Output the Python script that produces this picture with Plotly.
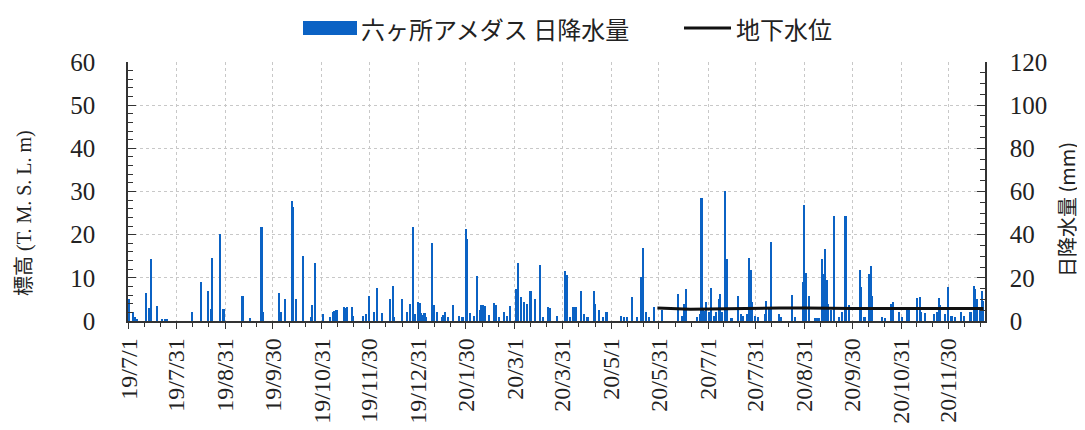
import plotly.graph_objects as go
import pandas as pd

# ---------------- data ----------------
START_DATE = "2019-07-01"
# day offset from START_DATE of each rainy day, and daily rainfall (mm)
rain_day_offset = [
    0, 3, 4, 5, 11, 13, 14, 18, 21, 23, 24, 40, 46, 50, 52, 53, 58, 60, 72, 77,
    84, 85, 95, 96, 99, 103, 104, 106, 110, 115, 116, 118, 123, 127, 129, 130, 131, 132, 136, 137,
    138, 141, 142, 148, 150, 152, 155, 157, 160, 165, 167, 168, 173, 176, 178, 180, 181, 183,
    184, 185, 186, 187, 188, 192, 193, 195, 198, 199, 200, 202, 205, 209, 211, 213, 214, 216,
    218, 220, 222, 223, 224, 225, 228, 231, 232, 234, 237, 239, 241, 245, 246, 248, 250, 252,
    254, 257, 260, 262, 265, 266, 271, 276, 277, 279, 281, 282, 283, 286, 288, 290, 294, 295,
    297, 300, 302, 311, 313, 315, 318, 321, 324, 325, 327, 329, 332, 337, 347, 350, 351, 352,
    359, 361, 362, 363, 364, 365, 367, 368, 370, 371, 373, 374, 375, 377, 378, 381, 385, 387,
    388, 391, 392, 393, 394, 396, 398, 402, 403, 405, 406, 411, 412, 419, 421, 426, 427, 428,
    430, 434, 435, 436, 438, 439, 440, 441, 442, 444, 446, 449, 451, 453, 455, 462, 463, 465,
    468, 469, 470, 476, 478, 482, 483, 487, 489, 492, 493, 498, 500, 501, 503, 509, 511, 512,
    513, 516, 518, 520, 522, 526, 528, 532, 534, 535, 536, 538, 539, 540,
]
rain_mm = [
    10, 4, 2, 1, 12.9, 6, 28.5, 7, 1, 1, 1, 4.4, 18, 13.7, 5.6, 29, 40.4, 5.6, 11.5, 1.5,
    43.7, 4.4, 12.9, 4, 10, 55.8, 53, 10.3, 30.3, 2, 7.2, 26.8, 3.3, 1.8, 4, 4.5, 5, 5, 6.4, 6,
    6.4, 6.4, 2.5, 2.5, 3.3, 11.5, 4, 15.2, 3.8, 10, 16, 1.8, 10, 4.4, 8, 43.7, 3.3, 8.7,
    8.4, 3.5, 3, 3.5, 2, 36, 7.6, 4.4, 2, 3, 4, 1.8, 7.5, 2.5, 2, 42.7, 38, 3.6,
    2.5, 21, 4.9, 7.5, 7.5, 7, 2.9, 8.4, 7.2, 1.8, 4.4, 2.5, 6.9, 14.6, 26.8, 11, 8.7, 8,
    14.1, 10, 26, 2, 6.4, 6, 2.5, 23.4, 21.5, 1.8, 6.4, 6.4, 6.4, 14.1, 3.3, 2, 14.1, 8,
    5.3, 1.8, 4, 2.5, 1.8, 2, 11, 2, 20.3, 33.7, 4, 2, 6.4, 4.9, 12.6, 2.5, 8, 14.6,
    2, 3.3, 56.9, 4.9, 4.5, 8.7, 4, 15.4, 2.5, 4, 10.3, 12.3, 4, 60.4, 28.8, 1.3, 11.5, 3.3,
    2.5, 3.3, 29.2, 23.7, 8.7, 2.5, 1.8, 3.3, 9.2, 5.6, 36.8, 3.3, 2, 12.1, 1.8, 18, 53.9, 22.1,
    11.8, 1.5, 1.5, 1.5, 28.5, 21.8, 33.4, 19, 8, 4.9, 48.8, 2, 4, 48.8, 7.2, 23.7, 15.6, 2,
    21.8, 25.7, 11.8, 1.8, 1.5, 8, 8.7, 4, 2, 4.9, 5.2, 10.7, 11, 4, 3.8, 3.3, 4, 10.7,
    7.2, 3.3, 15.6, 2.5, 2, 4, 2.5, 4, 16.1, 14.9, 10.3, 5.6, 13.7, 9.5,
]

gw_dates = ["2020-05-30", "2020-06-10", "2020-06-20", "2020-07-01", "2020-07-15",
            "2020-08-01", "2020-08-15", "2020-09-01", "2020-09-15", "2020-10-01",
            "2020-10-15", "2020-11-01", "2020-11-15", "2020-12-01", "2020-12-22"]
gw_level = [3.0, 2.9, 2.7, 2.8, 2.9, 2.9, 3.0, 3.0, 2.9, 2.9, 2.9, 2.9, 2.9, 2.9, 2.9]

tick_dates = ["2019-07-01", "2019-07-31", "2019-08-31", "2019-09-30", "2019-10-31",
              "2019-11-30", "2019-12-31", "2020-01-30", "2020-03-01", "2020-03-31",
              "2020-05-01", "2020-05-31", "2020-07-01", "2020-07-31", "2020-08-31",
              "2020-09-30", "2020-10-31", "2020-11-30"]
tick_labels = ["19/7/1", "19/7/31", "19/8/31", "19/9/30", "19/10/31", "19/11/30",
               "19/12/31", "20/1/30", "20/3/1", "20/3/31", "20/5/1", "20/5/31",
               "20/7/1", "20/7/31", "20/8/31", "20/9/30", "20/10/31", "20/11/30"]

rain_label = "六ヶ所アメダス 日降水量"
gw_label = "地下水位"

# ---------------- build ----------------
rain_dates = pd.Timestamp(START_DATE) + pd.to_timedelta(rain_day_offset, unit="D")

# minor ticks: thirds between major ticks
tk = pd.to_datetime(tick_dates)
minor_ticks = []
for a, b in zip(tk[:-1], tk[1:]):
    d = (b - a) / 3
    minor_ticks += [a + d, a + 2 * d]
minor_ticks.append(tk[-1] + pd.Timedelta(days=10))
minor_ticks.append(tk[-1] + pd.Timedelta(days=20))
minor_ticks = [t.strftime("%Y-%m-%d %H:%M") for t in minor_ticks]

SERIF = "Liberation Serif, Noto Sans CJK JP"
CJK = "Noto Sans CJK JP"
BLUE = "#0b62c4"
AX = "#333333"
GRID = "#c8c8c8"

fig = go.Figure()
fig.add_trace(go.Bar(
    x=rain_dates, y=rain_mm, yaxis="y", name=rain_label,
    marker=dict(color=BLUE, line=dict(width=0)),
    width=86400000 * 1.0, showlegend=False,
))
fig.add_trace(go.Scatter(
    x=gw_dates, y=gw_level, yaxis="y2", mode="lines", name=gw_label,
    line=dict(color="#111111", width=3), showlegend=False,
))

# page body has an 8px offset; figure sized so nothing is clipped
fig.update_layout(
    width=1077, height=422,
    margin=dict(l=120, r=100, t=54, b=109, autoexpand=False),
    paper_bgcolor="white", plot_bgcolor="white",
    bargap=0,
    xaxis=dict(
        type="date", range=["2019-06-30 12:00", "2020-12-23"],
        automargin=False,
        tickmode="array", tickvals=tick_dates, ticktext=tick_labels,
        tickangle=-90, tickfont=dict(family=SERIF, size=24, color="#222"),
        ticks="outside", ticklen=6, tickcolor=AX,
        showline=True, linecolor=AX, linewidth=1.5,
        showgrid=True, gridcolor=GRID, griddash="dot", gridwidth=1,
        minor=dict(tickmode="array", tickvals=minor_ticks, ticks="outside",
                   ticklen=4, tickcolor=AX, showgrid=False),
        zeroline=False,
    ),
    yaxis=dict(
        side="right", range=[0, 120], tickmode="array", automargin=False,
        tickvals=[0, 20, 40, 60, 80, 100, 120],
        tickfont=dict(family=SERIF, size=25, color="#222"),
        ticks="inside", ticklen=8, tickcolor=AX,
        ticklabelstandoff=18,
        showline=True, linecolor=AX, linewidth=1.5,
        showgrid=True, gridcolor=GRID, griddash="dot", gridwidth=1,
        minor=dict(dtick=5, ticks="inside", ticklen=5, tickcolor=AX, showgrid=False),
        zeroline=False,
    ),
    yaxis2=dict(
        overlaying="y", side="left", range=[0, 60], tickmode="array", automargin=False,
        tickvals=[0, 10, 20, 30, 40, 50, 60],
        tickfont=dict(family=SERIF, size=25, color="#222"),
        ticks="inside", ticklen=8, tickcolor=AX,
        ticklabelstandoff=26,
        showline=True, linecolor=AX, linewidth=1.5,
        showgrid=False,
        minor=dict(dtick=2, ticks="inside", ticklen=5, tickcolor=AX, showgrid=False),
        zeroline=False,
    ),
)

# manual legend (paper coordinates, from screen pixels)
def px_x(px):
    return (px - 128) / 857.0

def px_y(py):
    return (321 - py) / 259.0

fig.add_shape(type="rect", xref="paper", yref="paper",
              x0=px_x(303), x1=px_x(357), y0=px_y(35), y1=px_y(21),
              fillcolor=BLUE, line=dict(width=0))
fig.add_annotation(xref="paper", yref="paper", x=px_x(359), y=px_y(28),
                   text=rain_label, showarrow=False, xanchor="left", yanchor="middle",
                   font=dict(family=CJK, size=24, color="#222"))
fig.add_shape(type="line", xref="paper", yref="paper",
              x0=px_x(684), x1=px_x(731), y0=px_y(28), y1=px_y(28),
              line=dict(color="#111111", width=3))
fig.add_annotation(xref="paper", yref="paper", x=px_x(734), y=px_y(28),
                   text=gw_label, showarrow=False, xanchor="left", yanchor="middle",
                   font=dict(family=CJK, size=24, color="#222"))

# axis titles
fig.add_annotation(xref="paper", yref="paper", x=px_x(24), y=px_y(213),
                   text="標高 (T. M. S. L. m)", textangle=-90, showarrow=False,
                   xanchor="center", yanchor="middle",
                   font=dict(family=SERIF, size=20, color="#222"))
fig.add_annotation(xref="paper", yref="paper", x=px_x(1066), y=px_y(210),
                   text="日降水量 (mm)", textangle=-90, showarrow=False,
                   xanchor="center", yanchor="middle",
                   font=dict(family=CJK, size=20, color="#222"))

fig.write_html("out.html")
